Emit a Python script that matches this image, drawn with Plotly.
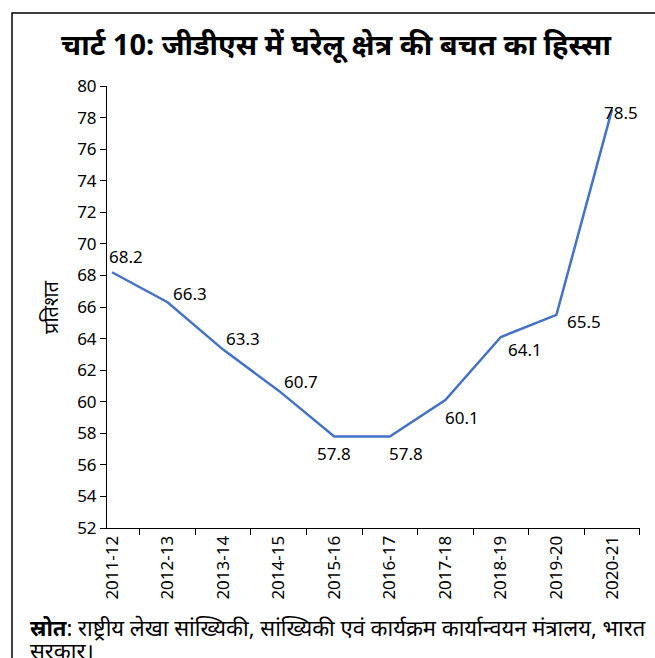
import plotly.graph_objects as go

years = ["2011-12", "2012-13", "2013-14", "2014-15", "2015-16",
         "2016-17", "2017-18", "2018-19", "2019-20", "2020-21"]
share = [68.2, 66.3, 63.3, 60.7, 57.8, 57.8, 60.1, 64.1, 65.5, 78.5]
label_dx = [14, 22, 20, 22, 0, 16, 17, 24, 28, 9]
label_dy = [16, 9, 11, 9, -17, -17, -17, -13, -7, -3]

title = "<b>चार्ट 10: जीडीएस में घरेलू क्षेत्र की बचत का हिस्सा</b>"
ytitle = "प्रतिशत"
source_line1 = "<b>स्रोत</b>: राष्ट्रीय लेखा सांख्यिकी, सांख्यिकी एवं कार्यक्रम कार्यान्वयन मंत्रालय, भारत"
source_line2 = "सरकार।"

W, H = 655, 658
L, R, T, B = 107, 15, 86, 130
pw, ph = W - L - R, H - T - B

def px2x(px):
    return (px - L) / pw

def py2y(py):
    return (H - B - py) / ph

fig = go.Figure()
fig.add_trace(go.Scatter(x=years, y=share, mode="lines",
                         line=dict(color="#4472C4", width=2.5),
                         hoverinfo="x+y"))

annotations = []
for yr, v, dx, dy in zip(years, share, label_dx, label_dy):
    annotations.append(dict(x=yr, y=v, text=f"{v:.1f}", showarrow=False,
                            xshift=dx, yshift=dy,
                            font=dict(size=17, color="black", family="Noto Sans, sans-serif")))

annotations.append(dict(xref="paper", yref="paper", x=px2x(50), y=0.5,
                        text=ytitle, textangle=-90, showarrow=False,
                        xanchor="center", yanchor="middle",
                        font=dict(size=20, color="black", family="Noto Sans, sans-serif")))
for txt, cy in ((source_line1, 627), (source_line2, 650)):
    annotations.append(dict(xref="paper", yref="paper", x=px2x(28), y=py2y(cy),
                            text=txt, showarrow=False, align="left",
                            xanchor="left", yanchor="middle",
                            font=dict(size=22, color="black", family="Noto Sans, sans-serif")))

fig.update_layout(
    width=W, height=H,
    margin=dict(l=L, r=R, t=T, b=B),
    paper_bgcolor="white", plot_bgcolor="white",
    showlegend=False,
    title=dict(text=title, x=336 / W, xref="container", xanchor="center",
               y=1 - 45 / H, yanchor="middle",
               font=dict(size=29, color="black", family="Noto Sans, sans-serif")),
    annotations=annotations,
    shapes=[dict(type="rect", xref="paper", yref="paper",
                 x0=px2x(12), x1=px2x(700), y0=py2y(720), y1=py2y(13),
                 line=dict(color="black", width=1.5), fillcolor="rgba(0,0,0,0)",
                 layer="below")],
    xaxis=dict(type="category", showgrid=False, showline=True, linecolor="black",
               linewidth=1, ticks="outside", ticklen=6, tickcolor="black",
               tickson="boundaries", tickangle=-90,
               tickfont=dict(size=17, color="black", family="Noto Sans, sans-serif")),
    yaxis=dict(range=[52, 80], dtick=2, showgrid=False, showline=True,
               linecolor="black", linewidth=1, ticks="outside", ticklen=6,
               tickcolor="black", zeroline=False,
               tickfont=dict(size=17, color="black", family="Noto Sans, sans-serif")),
)

fig.write_html("out.html")
